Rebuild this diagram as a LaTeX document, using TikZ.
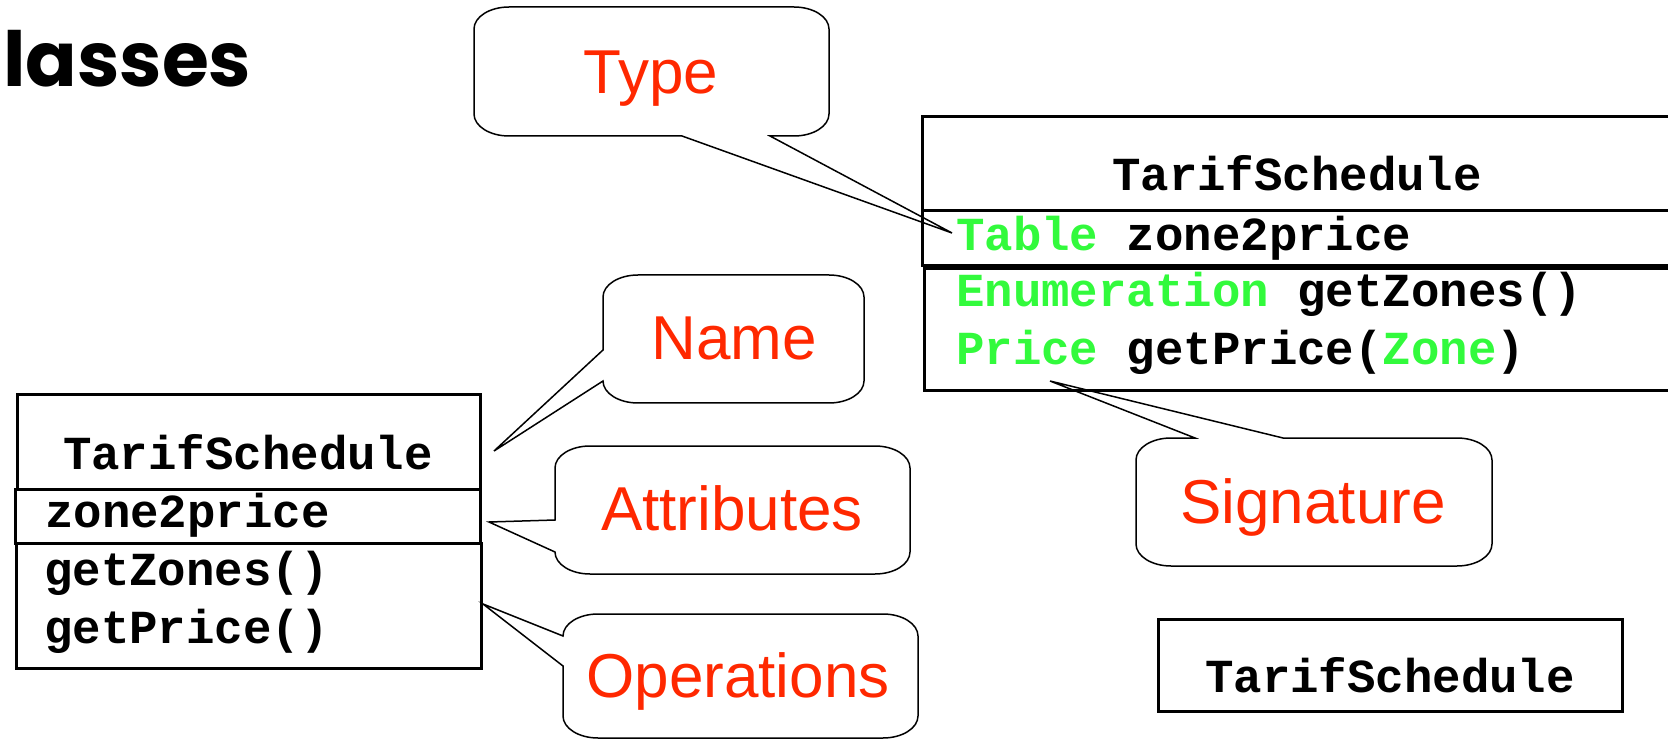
\documentclass[tikz,border=0pt]{standalone}
\usepackage{fontspec}
\usepackage{tikz}
\usetikzlibrary{calc}
\newfontfamily\calloutfont{Liberation Sans}
\newfontfamily\titlefont{Poppins}
\newfontfamily\codefamily{Liberation Mono}
\newcommand\codefont{\codefamily\bfseries\fontsize{47.4}{50}\selectfont}
\definecolor{typegreen}{RGB}{50,250,60}
\definecolor{calloutred}{RGB}{255,40,0}

\begin{document}
\begin{tikzpicture}[x=1pt,y=1pt,
        ClassBox/.style={draw,line width=3pt},
        CalloutBox/.style={draw,line width=1.5pt,line join=miter},
        CodeTxt/.style={inner sep=0pt,anchor=base west,font=\codefont},
        LabelTxt/.style={inner sep=0pt,anchor=base,text=calloutred,font=\calloutfont\fontsize{62}{70}\selectfont},
        rr/.style={x radius=35pt,y radius=22pt}
    ]
    \useasboundingbox (0,0) rectangle (1668,740);
    
    %title
    \node[anchor=base west,inner sep=0pt,font=\titlefont\bfseries\fontsize{76}{80}\selectfont] (title) at (3,653) {lasses};
    
    %callout Type
    \draw[CalloutBox] (509,733)--(794,733) arc[start angle=90,end angle=0,rr]--(829,626) arc[start angle=0,end angle=-90,rr]--(770,604)--(952,507)--(682,604)--(509,604) arc[start angle=-90,end angle=-180,rr]--(474,711) arc[start angle=180,end angle=90,rr]--cycle;
    \node[LabelTxt] (type) at (651,646) {Type};
    
    %callout Name
    \draw[CalloutBox] (638,465)--(829,465) arc[start angle=90,end angle=0,rr]--(864,359) arc[start angle=0,end angle=-90,rr]--(638,337) arc[start angle=-90,end angle=-180,rr]--(494,289)--(603,390)--(603,443) arc[start angle=180,end angle=90,rr]--cycle;
    \node[LabelTxt] (name) at (734,380) {Name};
    
    %callout Attributes
    \draw[CalloutBox] (590,294)--(875,294) arc[start angle=90,end angle=0,rr]--(910,188) arc[start angle=0,end angle=-90,rr]--(590,166) arc[start angle=-90,end angle=-180,rr]--(489,218)--(555,220)--(555,272) arc[start angle=180,end angle=90,rr]--cycle;
    \node[LabelTxt] (attr) at (732,210) {Attributes};
    
    %callout Operations
    \draw[CalloutBox] (598,126)--(883,126) arc[start angle=90,end angle=0,rr]--(918,24) arc[start angle=0,end angle=-90,rr]--(598,2) arc[start angle=-90,end angle=-180,rr]--(563,74)--(483,136)--(563,104) arc[start angle=180,end angle=90,rr]--cycle;
    \node[LabelTxt] (ops) at (738,43) {Operations};
    
    %callout Signature
    \draw[CalloutBox] (1171,302)--(1195,302)--(1050,359)--(1283,302)--(1457,302) arc[start angle=90,end angle=0,rr]--(1492,196) arc[start angle=0,end angle=-90,rr]--(1171,174) arc[start angle=-90,end angle=-180,rr]--(1136,280) arc[start angle=180,end angle=90,rr]--cycle;
    \node[LabelTxt] (sig) at (1313,217) {Signature};
    
    %class, left
    \draw[ClassBox] (17,251) rectangle (480,345);
    \draw[ClassBox] (15,197) rectangle (480,251);
    \draw[ClassBox] (16,72) rectangle (481,197);
    \node[CodeTxt,anchor=base] (cnameL) at (248,271) {TarifSchedule};
    \node[CodeTxt] (attrL) at (45,213) {zone2price};
    \node[CodeTxt] (op1L) at (44,155) {getZones()};
    \node[CodeTxt] (op2L) at (44,97) {getPrice()};
    
    %class, right (runs off the page)
    \draw[ClassBox] (1668,623)--(922,623)--(922,529)--(1668,529);
    \draw[ClassBox] (1668,529)--(922,529)--(922,474)--(1668,474);
    \draw[ClassBox] (1668,471)--(924,471)--(924,349)--(1668,349);
    \node[CodeTxt,anchor=base] (cnameR) at (1297,549) {TarifSchedule};
    \node[CodeTxt] (attrR) at (956,489) {\textcolor{typegreen}{Table} zone2price};
    \node[CodeTxt] (op1R) at (956,433) {\textcolor{typegreen}{Enumeration} getZones()};
    \node[CodeTxt] (op2R) at (956,375) {\textcolor{typegreen}{Price} getPrice(\textcolor{typegreen}{Zone})};
    
    %class, name only
    \draw[ClassBox] (1158,29) rectangle (1622,121);
    \node[CodeTxt,anchor=base] (cnameS) at (1390,48) {TarifSchedule};
    
\end{tikzpicture}
\end{document}
